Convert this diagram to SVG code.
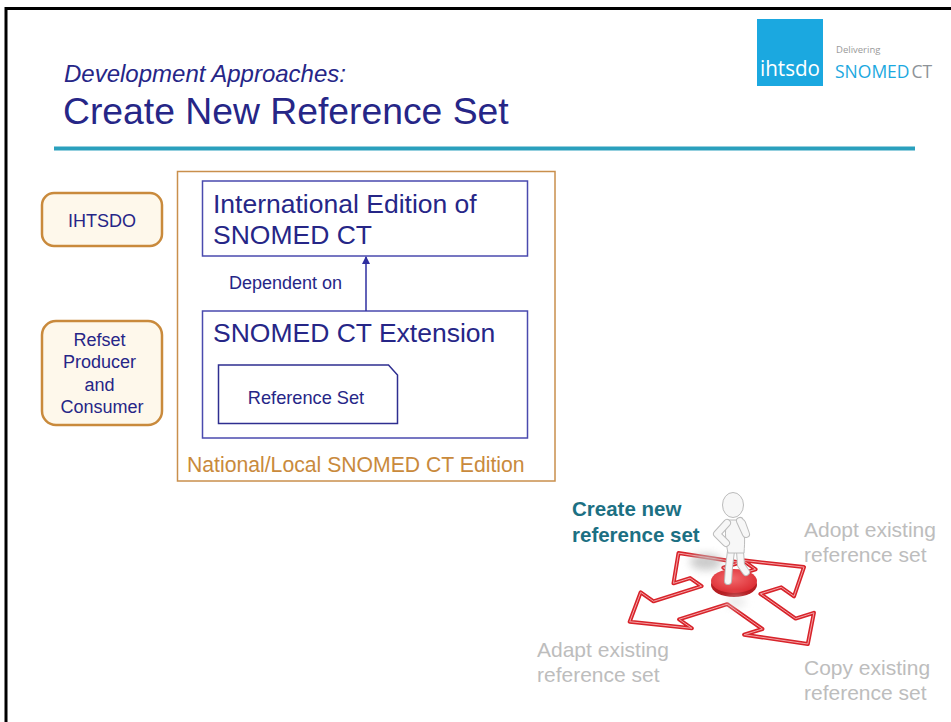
<svg xmlns="http://www.w3.org/2000/svg" width="951" height="722" viewBox="0 0 951 722">
  <defs>
    <style>
      .navy { fill: #262687; font-family: "Liberation Sans", Arial, sans-serif; }
      .orange { fill: #c98a3c; font-family: "Liberation Sans", Arial, sans-serif; }
      .grey { fill: #bdbdbd; font-family: "Liberation Sans", Arial, sans-serif; font-size: 21px; }
      .teal { fill: #1c7083; font-family: "Liberation Sans", Arial, sans-serif; font-size: 20.5px; font-weight: bold; }
      .actor { fill: #fef8eb; stroke: #c98a3c; stroke-width: 2.5; }
      .edition { fill: #ffffff; stroke: #4a4aae; stroke-width: 1.5; }
      .limb-edge { fill: none; stroke: #bcbcbc; stroke-width: 8; stroke-linecap: round; stroke-linejoin: round; }
      .limb { fill: none; stroke: #f7f7f7; stroke-width: 6; stroke-linecap: round; stroke-linejoin: round; }
    </style>
    <marker id="arrowhead" markerWidth="8" markerHeight="8" refX="7" refY="4" orient="auto" markerUnits="userSpaceOnUse">
      <path d="M0,0 L8,4 L0,8 Z" fill="#2f2fa0"/>
    </marker>
    <radialGradient id="disc" cx="0.45" cy="0.4" r="0.7">
      <stop offset="0" stop-color="#f26a6d"/>
      <stop offset="1" stop-color="#d9232a"/>
    </radialGradient>
    <filter id="soft" x="-50%" y="-50%" width="200%" height="200%">
      <feGaussianBlur stdDeviation="4"/>
    </filter>
    <!-- four-way arrow outline, projected onto the floor plane -->
    <polygon id="cross"
      points="727.2,604.2 762.4,629 744.1,634.7 807.8,644 813.9,612.8 795.6,618.6 760.4,593.8 781.2,587.3 794,596.3 804,567.1 742.8,560.3 755.6,569.3 734.8,575.8 723.3,567.7 739.9,562.5 678.5,553.1 673.5,583.3 690.1,578.1 701.6,586.2 653.5,601.3 640.7,592.3 629.7,621.7 691.9,628.3 679.1,619.3"/>
  </defs>

  <rect width="951" height="722" fill="#ffffff"/>

  <!-- slide frame -->
  <path d="M6,722 V8.5 H951" fill="none" stroke="#000000" stroke-width="3"/>

  <!-- logo -->
  <g id="logo">
    <rect x="757" y="19" width="66" height="67" fill="#1ba8e0"/>
    <text x="760" y="76" textLength="60" lengthAdjust="spacingAndGlyphs" fill="#ffffff" font-family="'Open Sans', sans-serif" font-size="21">ihtsdo</text>
    <text x="836" y="53" fill="#9a9a9a" font-family="'Open Sans', sans-serif" font-size="9.5">Delivering</text>
    <text x="835" y="78" fill="#1ba8e0" font-family="'Open Sans', sans-serif" font-size="17.5">SNOMED<tspan fill="#8e9398" dx="2">CT</tspan></text>
  </g>

  <!-- heading -->
  <g id="heading">
    <text class="navy" x="64" y="82" font-size="24" font-style="italic">Development Approaches:</text>
    <text class="navy" x="63" y="124" font-size="37.3">Create New Reference Set</text>
    <line x1="54" y1="148.5" x2="915" y2="148.5" stroke="#2aa0bd" stroke-width="4"/>
  </g>

  <!-- actors -->
  <g id="ihtsdo">
    <rect class="actor" x="42" y="193" width="120" height="53" rx="12"/>
    <text class="navy" x="102" y="227" font-size="18" text-anchor="middle">IHTSDO</text>
  </g>
  <g id="refset-producer">
    <rect class="actor" x="42" y="321" width="120" height="104" rx="14"/>
    <text class="navy" font-size="18" text-anchor="middle">
      <tspan x="102" y="346">Refset</tspan>
      <tspan x="102" y="368">Producer</tspan>
      <tspan x="102" y="391">and</tspan>
      <tspan x="102" y="413">Consumer</tspan>
    </text>
  </g>

  <!-- national/local edition container -->
  <g id="national-edition">
    <rect x="177.5" y="171.5" width="377.5" height="309.5" fill="#ffffff" stroke="#c98f4c" stroke-width="1.5"/>
    <text class="orange" x="187" y="472" font-size="21.2">National/Local SNOMED CT Edition</text>
  </g>

  <g id="international-edition">
    <rect class="edition" x="202.5" y="181" width="325" height="75"/>
    <text class="navy" font-size="26.5">
      <tspan x="213" y="213">International Edition of</tspan>
      <tspan x="213" y="244">SNOMED CT</tspan>
    </text>
  </g>

  <g id="extension">
    <rect class="edition" x="202.5" y="311" width="325" height="127"/>
    <text class="navy" x="213" y="342" font-size="26.5">SNOMED CT Extension</text>
  </g>

  <g id="reference-set">
    <path d="M218.5,365 H388.5 L397.5,375 V423.5 H218.5 Z" fill="#ffffff" stroke="#2e2e90" stroke-width="1.5"/>
    <text class="navy" x="306" y="404" font-size="18.2" text-anchor="middle">Reference Set</text>
  </g>

  <!-- connectors -->
  <g id="connectors">
    <line x1="366" y1="311" x2="366" y2="257" stroke="#2f2fa0" stroke-width="1.5" marker-end="url(#arrowhead)"/>
    <text class="navy" x="229" y="289" font-size="18" fill="#2f2fa0">Dependent on</text>
  </g>

  <!-- decision illustration: four-way arrow with a figure on a red disc -->
  <g id="crossroads">
    <use href="#cross" fill="#ffffff" stroke="#d8232a" stroke-width="4" stroke-linejoin="round"/>
    <use href="#cross" fill="none" stroke="#f3a3a6" stroke-width="1" stroke-linejoin="round"/>
    <ellipse cx="706" cy="562" rx="16" ry="8" fill="#bdbdbd" filter="url(#soft)" opacity="0.8"/>
    <ellipse cx="734" cy="585" rx="23" ry="12" fill="#b51d22"/>
    <ellipse cx="734" cy="581" rx="23" ry="12" fill="url(#disc)"/>
    <ellipse cx="736" cy="602" rx="10" ry="6" fill="#dddddd" filter="url(#soft)" opacity="0.6"/>
    <!-- figure -->
    <g id="figure">
      <path class="limb-edge" d="M731,551 L729,567 L728,581 M740,551 L741,565 L746,572"/>
      <path class="limb" d="M731,551 L729,567 L728,581 M740,551 L741,565 L746,572"/>
      <path d="M727,520 C724,532 726,543 728,553 L744,553 C745,541 745,530 742,520 Z" fill="#f7f7f7" stroke="#bcbcbc" stroke-width="1"/>
      <path class="limb-edge" d="M727,523 L717,534 L726,543 M742,523 L746,534 L740,521"/>
      <path class="limb" d="M727,523 L717,534 L726,543 M742,523 L746,534 L740,521"/>
      <ellipse cx="733" cy="505" rx="10.5" ry="12.5" fill="#f7f7f7" stroke="#bcbcbc" stroke-width="1"/>
    </g>
  </g>

  <!-- approach labels -->
  <g id="labels">
    <text class="teal"><tspan x="572" y="516">Create new</tspan><tspan x="572" y="542">reference set</tspan></text>
    <text class="grey"><tspan x="804" y="537">Adopt existing</tspan><tspan x="804" y="562">reference set</tspan></text>
    <text class="grey"><tspan x="537" y="657">Adapt existing</tspan><tspan x="537" y="682">reference set</tspan></text>
    <text class="grey"><tspan x="804" y="675">Copy existing</tspan><tspan x="804" y="700">reference set</tspan></text>
  </g>
</svg>
